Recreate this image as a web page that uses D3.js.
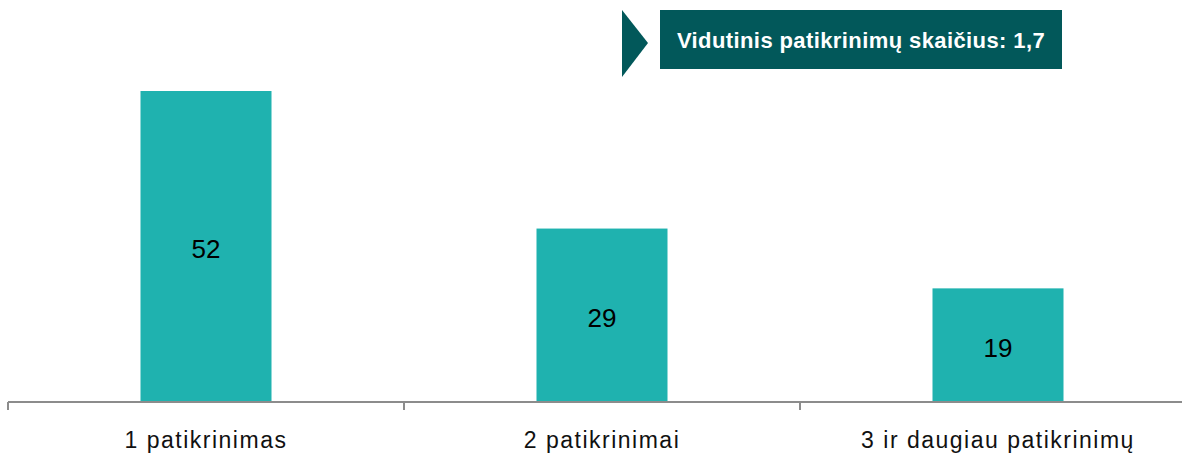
<!DOCTYPE html>
<html><head><meta charset="utf-8">
<script src="https://cdn.jsdelivr.net/npm/d3@7"></script>
<style>body{margin:0;background:#fff}svg{display:block}</style>
</head><body>
<script>
const categories = ["1 patikrinimas", "2 patikrinimai", "3 ir daugiau patikrinimų"];
const values = [52, 29, 19];
const calloutText = "Vidutinis patikrinimų skaičius: 1,7";

const W = 1182, H = 456;
const svg = d3.select("body").append("svg").attr("width", W).attr("height", H);
const x = d3.scaleBand().domain(categories).range([8, 1196]).paddingInner(0).paddingOuter(0);
const y = d3.scaleLinear().domain([0, 52]).range([402, 91]);
const barW = 131;

svg.selectAll("rect.bar").data(values).join("rect").attr("class","bar")
  .attr("x", (d,i) => x(categories[i]) + x.bandwidth()/2 - barW/2)
  .attr("y", d => y(d)).attr("width", barW).attr("height", d => y(0) - y(d))
  .attr("fill", "#1FB2AF");

svg.selectAll("text.val").data(values).join("text").attr("class","val")
  .attr("x", (d,i) => x(categories[i]) + x.bandwidth()/2)
  .attr("y", d => (y(d) + y(0))/2 + 11.5)
  .attr("text-anchor","middle")
  .attr("font-family","Liberation Sans, Arial, sans-serif").attr("font-size",26).attr("fill","#000")
  .text(d => d);

const axis = svg.append("g").attr("transform","translate(0,402)")
  .call(d3.axisBottom(x).tickSize(0).tickFormat(""));
axis.select(".domain").attr("stroke","#8c8c8c").attr("stroke-width",2).attr("d","M8,0H1182");
const bounds = categories.map(c => x(c)).concat([x(categories[2]) + x.bandwidth()]);
svg.selectAll("line.tk").data(bounds).join("line").attr("class","tk")
  .attr("x1", d=>d).attr("x2", d=>d).attr("y1",402).attr("y2",410)
  .attr("stroke","#8c8c8c").attr("stroke-width",2);

svg.selectAll("text.cat").data(categories).join("text").attr("class","cat")
  .attr("x", d => x(d) + x.bandwidth()/2).attr("y", 448)
  .attr("text-anchor","middle")
  .attr("font-family","Liberation Sans, Arial, sans-serif").attr("font-size",23)
  .attr("letter-spacing", 1.5).attr("fill","#111")
  .text(d => d);

// callout
svg.append("path").attr("d","M622,10L648,43L622,77Z").attr("fill","#02585A");
svg.append("rect").attr("x",660).attr("y",10).attr("width",402).attr("height",59).attr("fill","#02585A");
svg.append("text").attr("x",861).attr("y",48).attr("text-anchor","middle")
  .attr("font-family","Liberation Sans, Arial, sans-serif").attr("font-weight","bold").attr("font-size",22)
  .attr("letter-spacing", 0.4).attr("fill","#fff").text(calloutText);
</script>
</body></html>
